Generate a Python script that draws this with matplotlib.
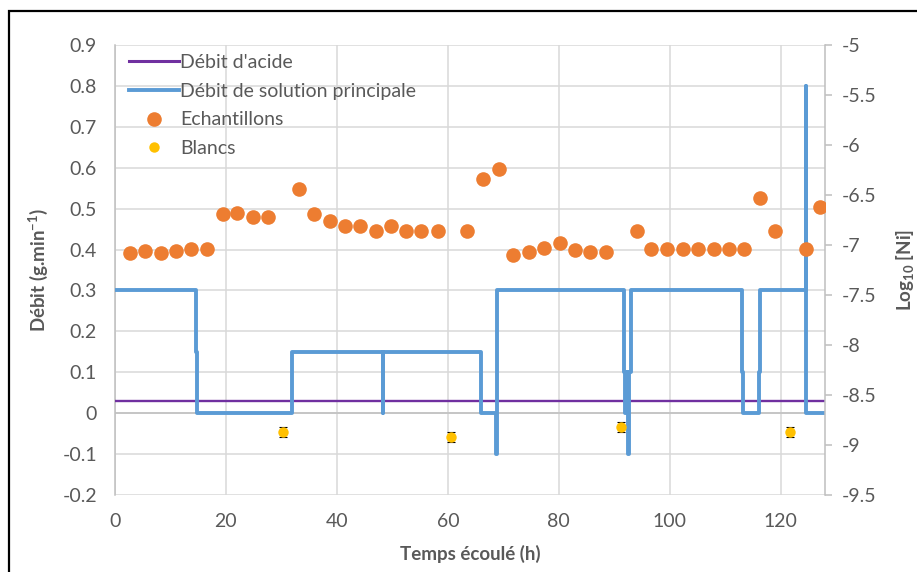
import matplotlib
matplotlib.use('Agg')
import matplotlib.pyplot as plt
from matplotlib.ticker import MultipleLocator, FuncFormatter
from matplotlib.patches import Rectangle
from matplotlib.lines import Line2D

plt.rcParams['font.family'] = ['Lato', 'DejaVu Sans']
plt.rcParams['axes.unicode_minus'] = False
plt.rcParams['mathtext.default'] = 'regular'

# ---- data ----
acid_t = [0, 128]
acid_flow = [0.03, 0.03]

main_t = [0, 14.55, 14.55, 14.85, 14.85, 31.9, 31.9, 48.3, 48.3, 48.3, 65.9, 65.9,
          68.6, 68.6, 68.9, 68.9, 91.85, 91.85, 92.0, 92.0, 92.3, 92.3, 92.5, 92.5,
          92.7, 92.7, 92.95, 92.95, 112.95, 112.95, 113.25, 113.25, 116.15, 116.15,
          116.35, 116.35, 124.5, 124.5, 124.6, 124.6, 128]
main_flow = [0.3, 0.3, 0.15, 0.15, 0, 0, 0.15, 0.15, 0, 0.15, 0.15, 0,
             0, -0.1, -0.1, 0.3, 0.3, 0.1, 0.1, 0, 0, 0.1, 0.1, -0.1,
             -0.1, 0.1, 0.1, 0.3, 0.3, 0.1, 0.1, 0, 0, 0.1,
             0.1, 0.3, 0.3, 0.8, 0.8, 0, 0]

sample_t = [2.7, 5.4, 8.25, 11.0, 13.7, 16.5, 19.4, 22.0, 24.8, 27.6, 33.1, 35.8,
            38.7, 41.5, 44.2, 47.0, 49.7, 52.5, 55.2, 58.2, 63.4, 66.3, 69.2, 71.8,
            74.6, 77.3, 80.2, 82.9, 85.7, 88.5, 94.1, 96.7, 99.5, 102.4, 105.1, 108.0,
            110.7, 113.4, 116.3, 118.9, 124.5, 127.1]
sample_log = [-7.08, -7.06, -7.08, -7.06, -7.04, -7.04, -6.69, -6.68, -6.72, -6.72,
              -6.44, -6.69, -6.76, -6.81, -6.81, -6.86, -6.81, -6.86, -6.86, -6.86,
              -6.86, -6.34, -6.24, -7.10, -7.07, -7.03, -6.98, -7.05, -7.07, -7.07,
              -6.86, -7.04, -7.04, -7.04, -7.04, -7.04, -7.04, -7.04, -6.53, -6.86,
              -7.04, -6.62]
sample_err = 0.05

blank_t = [30.3, 60.6, 91.2, 121.6]
blank_log = [-8.867, -8.917, -8.817, -8.867]
blank_err = 0.05

x_ticks = [0, 20, 40, 60, 80, 100, 120]

# ---- styles ----
GRID = '#D9D9D9'
AXC = '#BFBFBF'
TXT = '#595959'
BLUE = '#5B9BD5'
PURPLE = '#7030A0'
ORANGE = '#ED7D31'
YELLOW = '#FFC000'
FS = 14
LFS = 13.5

fig = plt.figure(figsize=(9.17, 5.72), dpi=100)
ax = fig.add_axes([115/917, 1-495/572, 710/917, 450/572])
ax2 = ax.twinx()

ax.set_xlim(0, 128)
ax.set_ylim(-0.2, 0.9)
ax2.set_ylim(-9.5, -5)

ax.set_xticks(x_ticks)
ax.yaxis.set_major_locator(MultipleLocator(0.1))
ax2.yaxis.set_major_locator(MultipleLocator(0.5))
fmt = FuncFormatter(lambda v, p: '%g' % round(v, 3))
ax.yaxis.set_major_formatter(fmt)
ax2.yaxis.set_major_formatter(fmt)

ax.grid(True, color=GRID, lw=1.1, zorder=0)
ax.set_axisbelow(True)
for s in ['top', 'bottom', 'right']:
    ax.spines[s].set_visible(False)
ax.spines['left'].set_color(AXC)
ax.spines['left'].set_linewidth(1.1)
for s in ['top', 'bottom', 'left']:
    ax2.spines[s].set_visible(False)
ax2.spines['right'].set_color(AXC)
ax2.spines['right'].set_linewidth(1.1)

ax.axhline(0, color=AXC, lw=1.1, zorder=1)

ax.tick_params(axis='both', length=0, labelsize=FS, labelcolor=TXT)
ax.tick_params(axis='y', pad=13)
ax.tick_params(axis='x', pad=13)
ax2.tick_params(axis='y', length=5, width=1.1, color=AXC, direction='out',
                labelsize=FS, labelcolor=TXT, pad=7)

ax.plot(acid_t, acid_flow, color=PURPLE, lw=1.7, zorder=3, solid_capstyle='butt')
ax.plot(main_t, main_flow, color=BLUE, lw=2.8, zorder=4,
        solid_joinstyle='round', solid_capstyle='round')

ax2.errorbar(sample_t, sample_log, yerr=sample_err, fmt='none', ecolor='black',
             elinewidth=0.8, capsize=3, capthick=0.8, zorder=5)
ax2.plot(sample_t, sample_log, 'o', color=ORANGE, ms=10.5, mec='none', zorder=6)
ax2.errorbar(blank_t, blank_log, yerr=blank_err, fmt='none', ecolor='black',
             elinewidth=0.8, capsize=3, capthick=0.8, zorder=5)
ax2.plot(blank_t, blank_log, 'o', color=YELLOW, ms=7.5, mec='none', zorder=6)

ax.set_xlabel('Temps écoulé (h)', fontsize=LFS, fontweight='bold', color=TXT)
ax.xaxis.set_label_coords(0.5, -0.112)
ax.set_ylabel('Débit (g.min$^{-1}$)', fontsize=LFS, fontweight='bold', color=TXT)
ax.yaxis.set_label_coords(-0.092, 0.5)
ax2.set_ylabel('Log$_{10}$ [Ni]', fontsize=LFS, fontweight='bold', color=TXT)
ax2.yaxis.set_label_coords(1.097, 0.5)

handles = [
    Line2D([], [], color=PURPLE, lw=2.2),
    Line2D([], [], color=BLUE, lw=2.8),
    Line2D([], [], ls='none', marker='o', color=ORANGE, ms=10.5, mec='none'),
    Line2D([], [], ls='none', marker='o', color=YELLOW, ms=7.5, mec='none'),
]
labels = ["Débit d'acide", 'Débit de solution principale', 'Echantillons', 'Blancs']
leg = ax2.legend(handles, labels, loc='upper left', bbox_to_anchor=(0.0, 1.01),
                 frameon=False, fontsize=FS, handlelength=2.6, handletextpad=0.05,
                 labelspacing=0.6, borderaxespad=0.3, labelcolor=TXT)

fig.patches.append(Rectangle((9/917, -0.5), 2.0, 1 - 11/572 + 0.5,
                             transform=fig.transFigure, fill=False,
                             edgecolor='black', lw=1.6))

fig.savefig('out.png', dpi=100)
